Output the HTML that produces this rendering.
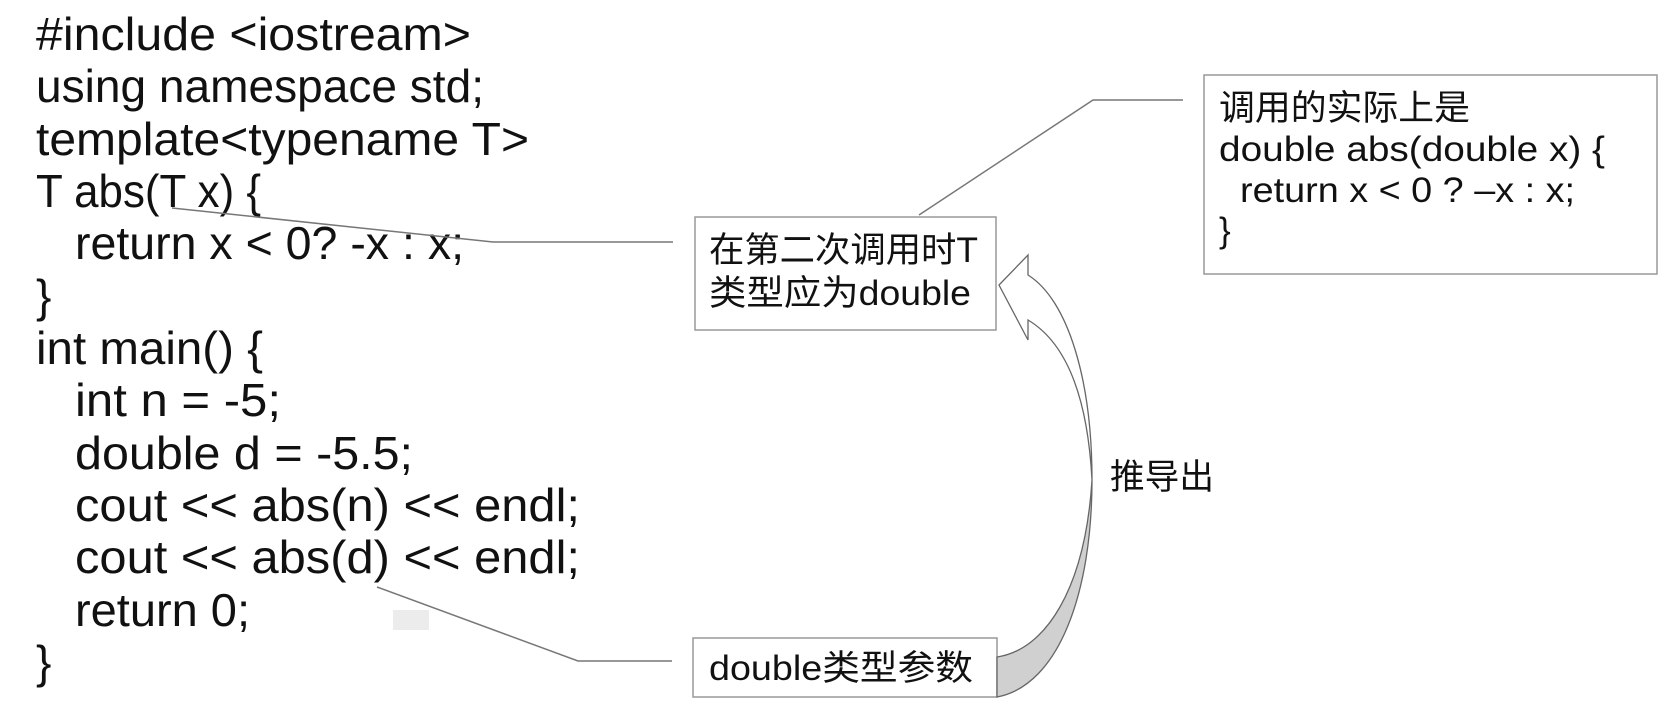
<!DOCTYPE html>
<html><head><meta charset="utf-8"><style>
html,body{margin:0;padding:0;background:#fff;}
svg{display:block;}
.c{font-family:"Liberation Sans","Noto Sans CJK SC",sans-serif;font-size:46px;fill:#111;}
.b{font-family:"Liberation Sans","Noto Sans CJK SC",sans-serif;font-size:35px;fill:#111;}
</style></head><body>
<svg width="1679" height="717" viewBox="0 0 1679 717" xmlns="http://www.w3.org/2000/svg">
<rect width="1679" height="717" fill="#fff"/>
<g class="c">
<text x="36" y="50" textLength="435" lengthAdjust="spacingAndGlyphs">#include &lt;iostream&gt;</text>
<text x="36" y="102" textLength="448" lengthAdjust="spacingAndGlyphs">using namespace std;</text>
<text x="36" y="155" textLength="493" lengthAdjust="spacingAndGlyphs">template&lt;typename T&gt;</text>
<text x="36" y="207" textLength="225" lengthAdjust="spacingAndGlyphs">T abs(T x) {</text>
<text x="75" y="259" textLength="389" lengthAdjust="spacingAndGlyphs">return x &lt; 0? -x : x;</text>
<text x="36" y="312">}</text>
<text x="36" y="364" textLength="227" lengthAdjust="spacingAndGlyphs">int main() {</text>
<text x="75" y="416" textLength="206" lengthAdjust="spacingAndGlyphs">int n = -5;</text>
<text x="75" y="469" textLength="338" lengthAdjust="spacingAndGlyphs">double d = -5.5;</text>
<text x="75" y="521" textLength="505" lengthAdjust="spacingAndGlyphs">cout &lt;&lt; abs(n) &lt;&lt; endl;</text>
<text x="75" y="573" textLength="505" lengthAdjust="spacingAndGlyphs">cout &lt;&lt; abs(d) &lt;&lt; endl;</text>
<text x="75" y="626" textLength="175" lengthAdjust="spacingAndGlyphs">return 0;</text>
<text x="36" y="678">}</text>
</g>
<rect x="393" y="610" width="36" height="20" fill="#ececec"/>
<g fill="none" stroke="#777" stroke-width="1.5">
<polyline points="172,208 493,242 673,242"/>
<polyline points="377,587 578,661 672,661"/>
<polyline points="919,215 1093,100 1183,100"/>
</g>
<rect x="695" y="217" width="301" height="113" fill="#fff" stroke="#999" stroke-width="1.5"/>
<rect x="1204" y="75" width="453" height="199" fill="#fff" stroke="#999" stroke-width="1.5"/>
<rect x="693" y="638" width="304" height="59" fill="#fff" stroke="#999" stroke-width="1.5"/>
<g class="b">
<text x="709" y="262" textLength="269" lengthAdjust="spacingAndGlyphs">在第二次调用时T</text>
<text x="709" y="305" textLength="262" lengthAdjust="spacingAndGlyphs">类型应为double</text>
<text x="709" y="680" textLength="264" lengthAdjust="spacingAndGlyphs">double类型参数</text>
<text x="1219" y="120" textLength="251" lengthAdjust="spacingAndGlyphs">调用的实际上是</text>
<text x="1219" y="161" textLength="386" lengthAdjust="spacingAndGlyphs">double abs(double x) {</text>
<text x="1240" y="202" textLength="335" lengthAdjust="spacingAndGlyphs">return x &lt; 0 ? –x : x;</text>
<text x="1219" y="242">}</text>
<text x="1110" y="489" textLength="104" lengthAdjust="spacingAndGlyphs">推导出</text>
</g>
<path d="M1092,480 C1092,590 1060,685 997,697 L997,657 C1045,650 1085,590 1092,480 Z" fill="#d0d0d0" stroke="#666" stroke-width="1.3"/>
<path d="M1028,275 C1068,300 1092,380 1092,480 C1088,405 1070,345 1028,320 L1028,340 L999,285 L1028,255 Z" fill="#fff" stroke="#666" stroke-width="1.3"/>
</svg>
</body></html>
